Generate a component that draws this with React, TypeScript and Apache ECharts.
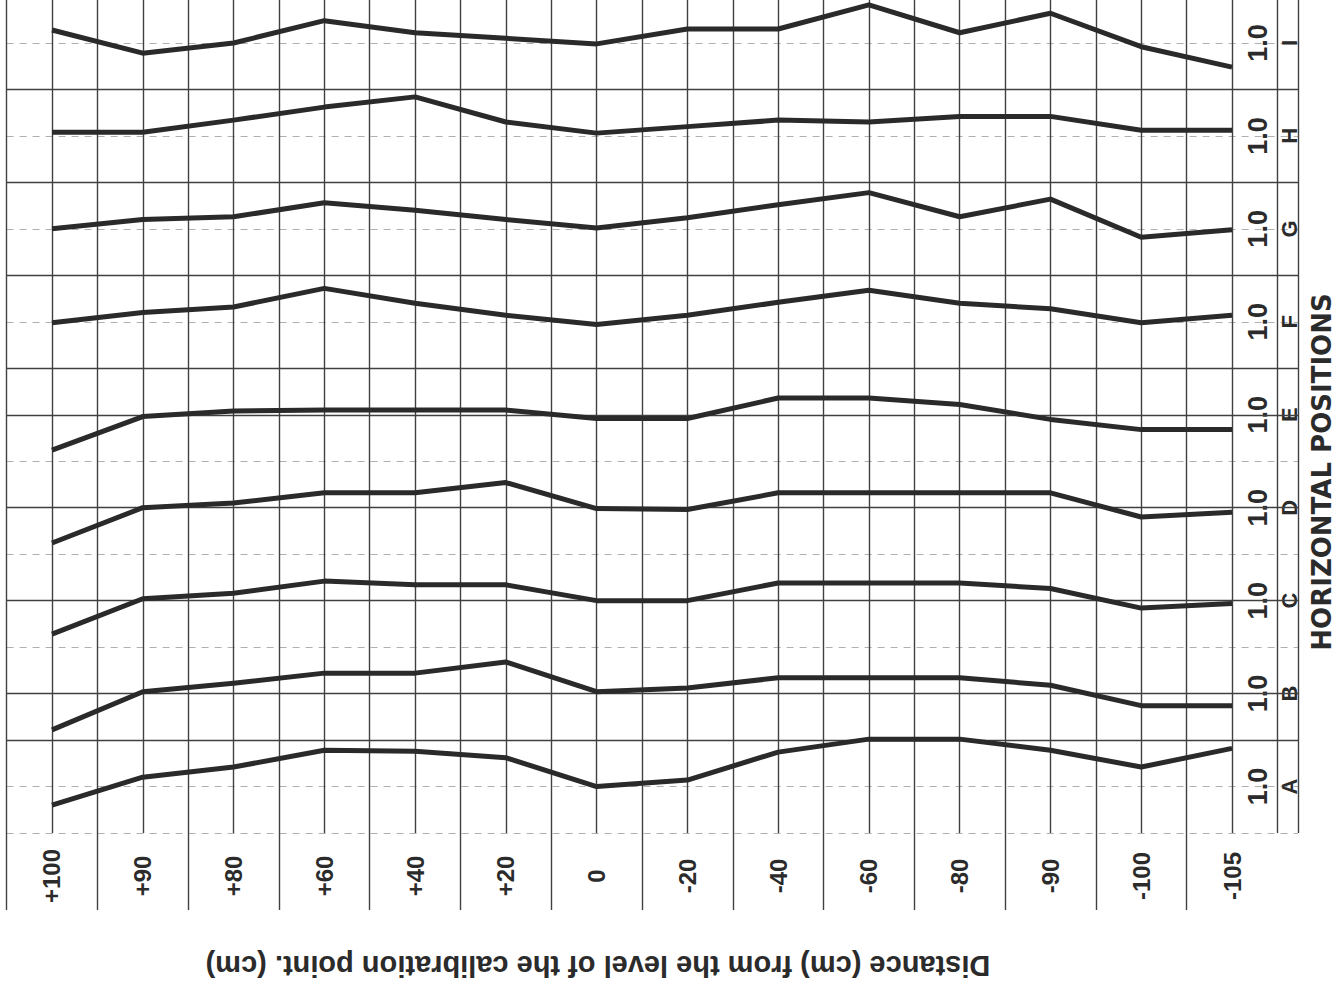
import React, { useEffect, useRef } from "react";
import * as echarts from "echarts";

// Distance from the calibration point level (cm), one column per measuring point
const categories = ["+100", "+90", "+80", "+60", "+40", "+20", "0", "-20", "-40", "-60", "-80", "-90", "-100", "-105"];
// Horizontal positions, bottom to top
const positions = ["A", "B", "C", "D", "E", "F", "G", "H", "I"];

// Relative values (1.0 = calibration level)
const posA = [0.980, 1.010, 1.021, 1.039, 1.038, 1.031, 1.000, 1.007, 1.037, 1.051, 1.051, 1.039, 1.021, 1.041];
const posB = [0.961, 1.002, 1.011, 1.022, 1.022, 1.034, 1.002, 1.006, 1.017, 1.017, 1.017, 1.009, 0.987, 0.987];
const posC = [0.964, 1.002, 1.008, 1.021, 1.017, 1.017, 1.000, 1.000, 1.019, 1.019, 1.019, 1.013, 0.992, 0.997];
const posD = [0.962, 1.000, 1.005, 1.016, 1.016, 1.027, 0.999, 0.998, 1.016, 1.016, 1.016, 1.016, 0.990, 0.995];
const posE = [0.962, 0.998, 1.004, 1.005, 1.005, 1.005, 0.996, 0.996, 1.018, 1.018, 1.011, 0.995, 0.984, 0.984];
const posF = [0.999, 1.010, 1.016, 1.036, 1.020, 1.007, 0.997, 1.007, 1.021, 1.034, 1.020, 1.014, 0.999, 1.007];
const posG = [1.000, 1.010, 1.013, 1.028, 1.020, 1.010, 1.001, 1.012, 1.026, 1.039, 1.013, 1.032, 0.991, 0.999];
const posH = [1.004, 1.004, 1.017, 1.031, 1.042, 1.015, 1.003, 1.010, 1.017, 1.015, 1.021, 1.021, 1.006, 1.006];
const posI = [1.014, 0.989, 1.000, 1.024, 1.011, 1.005, 0.999, 1.015, 1.015, 1.041, 1.011, 1.032, 0.996, 0.974];

const profiles = [posA, posB, posC, posD, posE, posF, posG, posH, posI];

const baselineValue = 1.0;
const unitPerDivision = 0.05; // one grid division of the paper
const divisionsPerBand = 2;

const xTitle = "Distance (cm) from the level of the calibration point. (cm)";
const yTitle = "HORIZONTAL POSITIONS";

// grid rule positions (in grid divisions)
const solidRules = [2, 3, 5, 7, 9, 10, 12, 14, 16];
const cellEdges = [-0.5, 0.5, 1.5, 2.5, 3.5, 4.5, 5.5, 6.5, 7.5, 8.5, 9.5, 10.5, 11.5, 12.5];

const INK = "#2b2b2b";
const RULE = "#404040";

export default function App() {
  const ref = useRef<HTMLDivElement>(null);

  useEffect(() => {
    if (!ref.current) return;
    const chart = echarts.init(ref.current, undefined, { renderer: "svg" });

    const bandBase = (k: number) => k * divisionsPerBand + 1;

    const series: any[] = profiles.map((vals, k) => ({
      name: positions[k],
      type: "line",
      xAxisIndex: 0,
      yAxisIndex: 0,
      symbol: "none",
      silent: true,
      lineStyle: { color: "#2a2a2a", width: 5, join: "round", cap: "butt" },
      data: vals.map((v, i) => [i, bandBase(k) + (v - baselineValue) / unitPerDivision]),
      z: 5,
    }));

    series.push({
      type: "line",
      xAxisIndex: 0,
      yAxisIndex: 0,
      data: [],
      silent: true,
      markLine: {
        silent: true,
        symbol: "none",
        label: { show: false },
        lineStyle: { color: RULE, type: "solid", width: 1.4 },
        data: solidRules.map((v) => ({ yAxis: v })),
      },
    });

    chart.setOption({
      animation: false,
      backgroundColor: "#ffffff",
      grid: {
        left: 6.6,
        top: -3.5,
        width: 1291.4,
        height: 836.5,
        containLabel: false,
        outerBoundsMode: "none",
      },
      xAxis: [
        {
          type: "value",
          min: -0.5,
          max: 13.727,
          interval: 0.5,
          position: "bottom",
          axisLine: { show: false },
          axisTick: { show: false },
          splitLine: { show: true, lineStyle: { color: RULE, width: 1.4 } },
          axisLabel: {
            show: true,
            rotate: 90,
            align: "center",
            verticalAlign: "middle",
            margin: 43,
            formatter: (v: number) => (Number.isInteger(v) && categories[v] !== undefined ? categories[v] : ""),
            fontFamily: "Liberation Sans",
            fontWeight: "bold",
            fontSize: 24,
            color: INK,
          },
        },
        {
          type: "value",
          min: -0.5,
          max: 13.727,
          interval: 1,
          position: "bottom",
          axisLine: { show: false },
          axisLabel: { show: false },
          splitLine: { show: false },
          axisTick: {
            show: true,
            inside: false,
            length: 77,
            customValues: cellEdges,
            lineStyle: { color: RULE, width: 1.4 },
          },
        },
      ],
      yAxis: [
        {
          type: "value",
          min: 0,
          max: 18,
          interval: 1,
          position: "right",
          axisLine: { show: false },
          axisTick: { show: false },
          splitLine: { show: true, lineStyle: { color: "#b0b0b0", width: 1, type: [7, 6] } },
          axisLabel: {
            inside: true,
            rotate: 90,
            align: "center",
            verticalAlign: "middle",
            margin: 40,
            formatter: (v: number) => (v % 2 === 1 ? baselineValue.toFixed(1) : ""),
            fontFamily: "Liberation Sans",
            fontWeight: "bold",
            fontSize: 27,
            color: INK,
          },
        },
        {
          type: "value",
          min: 0,
          max: 18,
          interval: 1,
          position: "right",
          axisLine: { show: false },
          axisTick: { show: false },
          splitLine: { show: false },
          axisLabel: {
            inside: true,
            rotate: 90,
            align: "center",
            verticalAlign: "middle",
            margin: 9,
            formatter: (v: number) => (v % 2 === 1 ? positions[(v - 1) / 2] ?? "" : ""),
            fontFamily: "Liberation Sans",
            fontWeight: "bold",
            fontSize: 22,
            color: INK,
          },
        },
      ],
      graphic: [
        {
          type: "text",
          x: 598,
          y: 966,
          rotation: Math.PI,
          silent: true,
          style: {
            text: xTitle,
            font: 'bold 29px "Liberation Sans"',
            fill: INK,
            align: "center",
            verticalAlign: "middle",
            textAlign: "center",
            textVerticalAlign: "middle",
          },
        },
        {
          type: "text",
          x: 1322,
          y: 472,
          rotation: Math.PI / 2,
          silent: true,
          style: {
            text: yTitle,
            font: 'bold 26px "DejaVu Sans"',
            fill: INK,
            align: "center",
            verticalAlign: "middle",
            textAlign: "center",
            textVerticalAlign: "middle",
          },
        },
      ],
      series,
    });

    return () => chart.dispose();
  }, []);

  return (
    <div
      ref={ref}
      style={{ position: "absolute", left: 0, top: 0, width: 1337, height: 996, background: "#fff" }}
    />
  );
}
